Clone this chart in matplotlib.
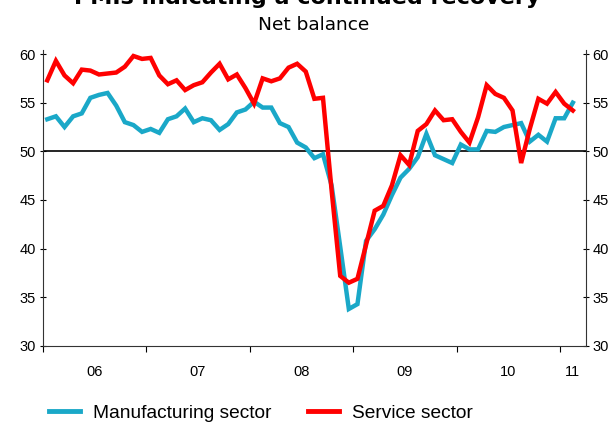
import matplotlib
matplotlib.use("Agg")
import matplotlib.pyplot as plt
import numpy as np

# Monthly data, Jan 2006 .. Feb 2011
years = ["06", "07", "08", "09", "10", "11"]
manufacturing = [
    53.3, 53.6, 52.5, 53.6, 53.9, 55.5, 55.8, 56.0, 54.7, 53.0, 52.7, 52.0,
    52.3, 51.9, 53.3, 53.6, 54.4, 53.0, 53.4, 53.2, 52.2, 52.8, 54.0, 54.3,
    55.1, 54.5, 54.5, 52.9, 52.5, 50.9, 50.4, 49.3, 49.7, 46.5, 40.2, 33.8,
    34.3, 40.8, 42.0, 43.5, 45.5, 47.3, 48.2, 49.4, 51.8, 49.6, 49.2, 48.8,
    50.7, 50.2, 50.2, 52.1, 52.0, 52.5, 52.7, 52.9, 51.0, 51.7, 51.0, 53.4,
    53.4, 55.0,
]
services = [
    57.3, 59.3, 57.8, 57.0, 58.4, 58.3, 57.9, 58.0, 58.1, 58.7, 59.8, 59.5,
    59.6, 57.8, 56.9, 57.3, 56.3, 56.8, 57.1, 58.1, 59.0, 57.4, 57.9, 56.5,
    54.9, 57.5, 57.2, 57.5, 58.6, 59.0, 58.2, 55.4, 55.5, 46.0, 37.2, 36.5,
    36.9, 40.4, 43.9, 44.4, 46.5, 49.6, 48.6, 52.1, 52.8, 54.2, 53.2, 53.3,
    52.0, 50.9, 53.5, 56.8, 55.9, 55.5, 54.2, 48.8, 52.3, 55.4, 54.9, 56.1,
    54.9, 54.2,
]
yticks = [30, 35, 40, 45, 50, 55, 60]

blue = "#1aa8c8"
red = "#ff0000"

fig = plt.figure(figsize=(6.14, 4.25), dpi=100)
ax = fig.add_axes([0.070, 0.186, 0.884, 0.696])

x = np.arange(len(manufacturing)) + 0.5
ax.plot(x, manufacturing, color=blue, lw=3.2, solid_joinstyle="miter", zorder=3)
ax.plot(x, services, color=red, lw=3.2, solid_joinstyle="miter", zorder=4)
ax.axhline(50, color="black", lw=1.2, zorder=2)

ax.set_xlim(0, 63)
ax.set_ylim(30, 60.4)

ax.spines["top"].set_visible(False)
for s in ["left", "right", "bottom"]:
    ax.spines[s].set_linewidth(0.8)
    ax.spines[s].set_color("#333333")

tickfont = dict(family="Liberation Sans", size=10.5)
ax.set_yticks(yticks)
ax.set_yticklabels([str(v) for v in yticks], **tickfont)
ax.tick_params(axis="y", direction="inout", length=4, width=0.8, pad=3,
               left=True, right=True, labelleft=True, labelright=True)

# year boundaries as major ticks, year labels as minor ticks
ax.set_xticks(np.arange(0, 61, 12))
ax.set_xticklabels([])
ax.tick_params(axis="x", which="major", direction="out", length=4, width=0.8)
centers = [6 + 12 * i for i in range(5)] + [61.5]
ax.set_xticks(centers, minor=True)
ax.set_xticklabels(years, minor=True, **tickfont)
ax.tick_params(axis="x", which="minor", length=0, pad=14)

fig.text(0.5, 1 - 4.5 / 425, "PMIs indicating a continued recovery",
         ha="center", va="baseline", fontsize=16, fontweight="bold",
         family="DejaVu Sans")
fig.text(0.511, 1 - 25 / 425, "Net balance", ha="center", va="center",
         fontsize=13.3, family="DejaVu Sans")

from matplotlib.lines import Line2D
handles = [Line2D([], [], color=blue, lw=3.5), Line2D([], [], color=red, lw=3.5)]
leg = fig.legend(handles, ["Manufacturing sector", "Service sector"],
                 loc="center left", bbox_to_anchor=(0.058, 1 - 413 / 425),
                 ncol=2, frameon=False, handlelength=1.6, handletextpad=0.7,
                 columnspacing=1.9, borderpad=0.2,
                 prop=dict(family="Liberation Sans", size=13.8))

fig.savefig("out.png", dpi=100)
